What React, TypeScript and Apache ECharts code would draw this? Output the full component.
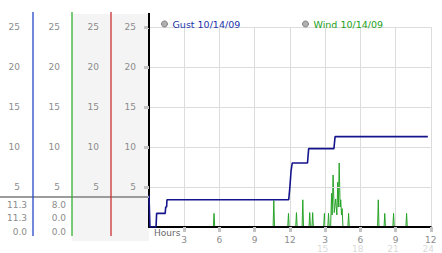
import React, { useEffect, useRef } from "react";
import * as echarts from "echarts";

// ---- data (hours since midnight, mph) ----
const gustName = "Gust 10/14/09";
const windName = "Wind 10/14/09";

const gustPoints: [number, number][] = [
  [0, 4.0], [0.08, 0], [0.6, 0], [0.65, 1.7], [1.38, 1.7], [1.42, 2.5],
  [1.5, 2.5], [1.53, 3.4], [11.9, 3.4], [12.0, 5.0], [12.1, 7.0], [12.2, 8.0],
  [13.5, 8.0], [13.6, 9.8], [15.75, 9.8], [15.85, 11.3], [23.75, 11.3],
];

const windPoints: [number, number][] = [
  [0.6, 0], [5.48, 0], [5.54, 1.7], [5.6, 0],
  [10.57, 0], [10.63, 3.3], [10.69, 0],
  [11.82, 0], [11.88, 1.7], [11.94, 0],
  [12.5, 0], [12.56, 1.8], [12.62, 0],
  [13.04, 0], [13.1, 3.4], [13.16, 0],
  [13.63, 0], [13.69, 1.8], [13.75, 0],
  [13.88, 0], [13.94, 1.8], [14.0, 0],
  [14.88, 0], [14.94, 1.7], [15.0, 0],
  [15.23, 0], [15.29, 1.7], [15.35, 0],
  [15.47, 0], [15.55, 4.2], [15.6, 1.5], [15.68, 6.5], [15.78, 1.8],
  [15.9, 3.5], [16.0, 1.5], [16.08, 5.6], [16.13, 2.5], [16.2, 8.0],
  [16.28, 2.5], [16.33, 3.4], [16.4, 1.5], [16.45, 2.3], [16.52, 0],
  [16.94, 0], [17.0, 1.7], [17.06, 0],
  [19.47, 0], [19.53, 3.4], [19.59, 0],
  [20.02, 0], [20.08, 1.7], [20.14, 0],
  [20.77, 0], [20.83, 1.7], [20.89, 0],
  [21.88, 0], [21.94, 1.7], [22.0, 0],
  [23.75, 0],
];

const xTopLabels = ["3", "6", "9", "12", "3", "6", "9", "12"];
const xBottomLabels = ["", "", "", "", "15", "18", "21", "24"];
const yMin = 0;
const yMax = 25;
const yStep = 5;
const xMin = 0;
const xMax = 24;
const xStep = 3;

const fmt = (v: number) => v.toFixed(1);
const stats = (pts: [number, number][]) => {
  const vals = pts.map((p) => p[1]);
  return [fmt(Math.max(...vals)), fmt(vals[vals.length - 1]), fmt(Math.min(...vals))];
};

const FONT = "DejaVu Sans";
const LABEL = "#8c8c8c";

export default function App() {
  const ref = useRef<HTMLDivElement>(null);
  useEffect(() => {
    if (!ref.current) return;
    const chart = echarts.init(ref.current, null, { renderer: "svg" });
    const gustStats = stats(gustPoints);
    const windStats = stats(windPoints);
    const rowY = [204.5, 218, 231.5];

    const sideAxis = (offset: number) => ({
      type: "value",
      position: "left",
      gridIndex: 0,
      offset,
      min: yMin,
      max: yMax,
      interval: yStep,
      axisLine: { show: false },
      axisTick: { show: false },
      splitLine: { show: false },
      axisLabel: {
        showMinLabel: false,
        margin: 13,
        color: LABEL,
        fontFamily: FONT,
        fontSize: 9,
      },
    });

    const graphics: any[] = [
      { type: "rect", z: -10, shape: { x: 72, y: 14, width: 77, height: 227 }, style: { fill: "#f4f4f4" } },
      { type: "line", z: 5, shape: { x1: 0, y1: 197, x2: 149, y2: 197 }, style: { stroke: "#9c9c9c", lineWidth: 2 } },
      { type: "line", z: 6, shape: { x1: 33, y1: 12, x2: 33, y2: 236 }, style: { stroke: "#2448c8", lineWidth: 1.3 } },
      { type: "line", z: 6, shape: { x1: 72, y1: 12, x2: 72, y2: 236 }, style: { stroke: "#34b034", lineWidth: 1.3 } },
      { type: "line", z: 6, shape: { x1: 111, y1: 12, x2: 111, y2: 236 }, style: { stroke: "#cc3030", lineWidth: 1.3 } },
      { type: "line", z: 6, shape: { x1: 149, y1: 13, x2: 149, y2: 28 }, style: { stroke: "#000", lineWidth: 2 } },
      {
        type: "text", z: 6, x: 154, y: 233,
        style: { text: "Hours", fill: "#666", font: `9px "${FONT}"`, textVerticalAlign: "middle" },
      },
    ];
    gustStats.forEach((t, i) =>
      graphics.push({
        type: "text", z: 6, x: 27, y: rowY[i],
        style: { text: t, fill: LABEL, font: `9px "${FONT}"`, textAlign: "right", textVerticalAlign: "middle" },
      })
    );
    windStats.forEach((t, i) =>
      graphics.push({
        type: "text", z: 6, x: 66, y: rowY[i],
        style: { text: t, fill: LABEL, font: `9px "${FONT}"`, textAlign: "right", textVerticalAlign: "middle" },
      })
    );

    const legendBase = {
      top: 14,
      itemWidth: 6,
      itemHeight: 6,
      icon: "circle",
      selectedMode: false,
    };

    chart.setOption({
      animation: false,
      backgroundColor: "#ffffff",
      grid: { left: 149, right: 4, top: 27, bottom: 26, containLabel: false },
      legend: [
        {
          ...legendBase,
          left: 156,
          data: [
            {
              name: gustName,
              itemStyle: { color: "#b0b0b0", borderColor: "#808080", borderWidth: 1 },
              textStyle: { color: "#2233aa", fontFamily: FONT, fontSize: 9.5 },
            },
          ],
        },
        {
          ...legendBase,
          left: 297,
          data: [
            {
              name: windName,
              itemStyle: { color: "#b0b0b0", borderColor: "#808080", borderWidth: 1 },
              textStyle: { color: "#22a022", fontFamily: FONT, fontSize: 9.5 },
            },
          ],
        },
      ],
      xAxis: {
        type: "value",
        min: xMin,
        max: xMax,
        interval: xStep,
        z: 3,
        axisLine: { show: true, onZero: false, lineStyle: { color: "#000", width: 2 } },
        axisTick: { show: true, length: 5, lineStyle: { color: "#c4c4c4", width: 3 } },
        splitLine: { show: true, lineStyle: { color: "#dcdcdc", width: 1 } },
        axisLabel: {
          showMinLabel: false,
          margin: 8,
          verticalAlign: "top",
          formatter: (v: number) => {
            const idx = Math.round(v / xStep) - 1;
            if (idx < 0) return "";
            const top = xTopLabels[idx];
            const bot = xBottomLabels[idx];
            return bot ? `{a|${top}}\n{b|${bot}}` : `{a|${top}}`;
          },
          rich: {
            a: { color: LABEL, fontFamily: FONT, fontSize: 9, lineHeight: 9 },
            b: { color: "#dadada", fontFamily: FONT, fontSize: 9, lineHeight: 9, padding: [0, 5, 0, 0] },
          },
        },
      },
      yAxis: [
        {
          type: "value",
          position: "left",
          min: yMin,
          max: yMax,
          interval: yStep,
          z: 3,
          axisLine: { show: true, onZero: false, lineStyle: { color: "#000", width: 2 } },
          axisTick: { show: true, length: 5, lineStyle: { color: "#c4c4c4", width: 3 } },
          splitLine: { show: true, lineStyle: { color: "#dcdcdc", width: 1 } },
          axisLabel: {
            showMinLabel: false,
            margin: 13,
            color: LABEL,
            fontFamily: FONT,
            fontSize: 9,
          },
        },
        sideAxis(37),
        sideAxis(76),
        sideAxis(116),
      ],
      series: [
        {
          name: windName,
          type: "line",
          z: 2,
          data: windPoints,
          showSymbol: false,
          lineStyle: { color: "#27a327", width: 1 },
          itemStyle: { color: "#27a327" },
        },
        {
          name: gustName,
          type: "line",
          z: 4,
          data: gustPoints,
          showSymbol: false,
          lineStyle: { color: "#14148c", width: 1.6 },
          itemStyle: { color: "#14148c" },
        },
      ],
      graphic: graphics,
    });
    return () => chart.dispose();
  }, []);
  return (
    <div
      ref={ref}
      style={{ position: "fixed", left: 0, top: 0, width: 442, height: 253 }}
    />
  );
}
